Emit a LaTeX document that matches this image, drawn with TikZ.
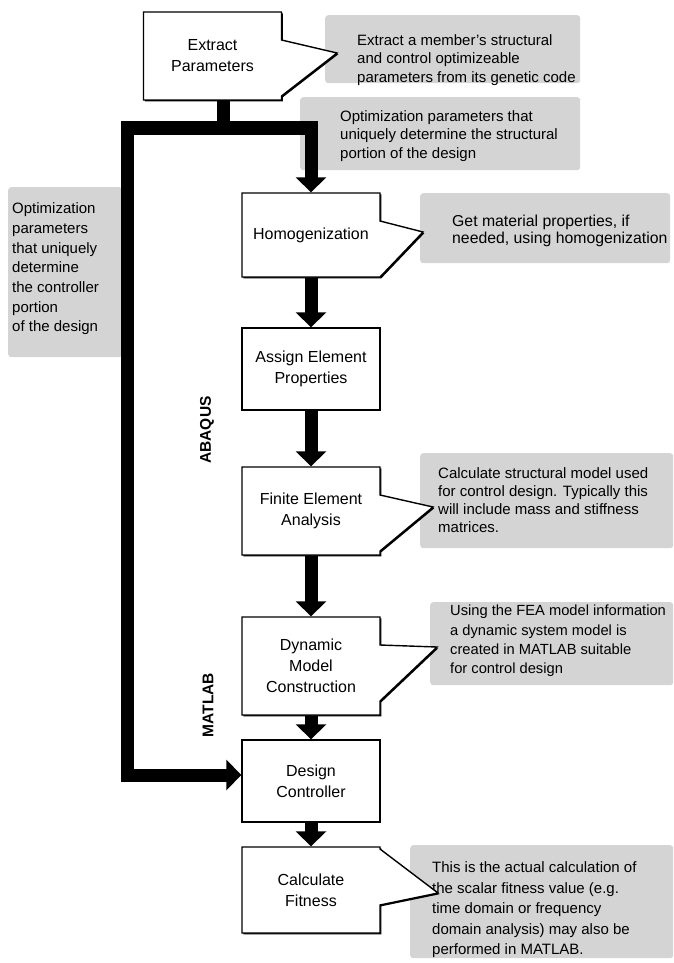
\documentclass[tikz,border=0pt]{standalone}
\usepackage{fontspec}
\setmainfont{Liberation Sans}
\usetikzlibrary{arrows.meta,shapes.callouts,shadows,positioning}

\begin{document}
\begin{tikzpicture}
    \tikzset{x=1pt, y=-1pt, >={Triangle[width=30pt,length=15pt]}}
    \tikzstyle{stage}=[rectangle, draw, line width=1.4pt, fill=white, minimum width=138pt,
        align=center, font=\fontsize{16}{21}\selectfont,
        drop shadow={shadow xshift=1.3pt, shadow yshift=-1.3pt, fill=black, opacity=1}]
    \tikzstyle{talk}=[stage, rectangle callout, callout pointer width=56pt]
    \tikzstyle{panel}=[rectangle, fill=black!17, rounded corners=3pt, inner sep=0pt, anchor=north west]
    \tikzstyle{note}=[align=left, anchor=west, inner sep=0pt, font=\fontsize{15}{18.5}\selectfont]
    \tikzstyle{flow}=[line width=13pt]
    \tikzstyle{tool}=[rotate=90, font=\bfseries\fontsize{15.5}{18}\selectfont]

    \useasboundingbox (0,0) rectangle (673,963);

    % grey notes
    \draw (325,15)  node[panel, minimum width=255pt, minimum height=68pt]  (p1) {};
    \draw (300,97)  node[panel, minimum width=280pt, minimum height=73pt]  (p2) {};
    \draw (8,187)   node[panel, minimum width=114pt, minimum height=170pt] (p3) {};
    \draw (420,193) node[panel, minimum width=250pt, minimum height=70pt]  (p4) {};
    \draw (420,453) node[panel, minimum width=253pt, minimum height=95pt]  (p5) {};
    \draw (430,602) node[panel, minimum width=243pt, minimum height=83pt]  (p6) {};
    \draw (410,845) node[panel, minimum width=263pt, minimum height=113pt] (p7) {};

    \draw (357,60)  node[note] (t1) {Extract a member's structural\\and control optimizeable\\parameters from its genetic code};
    \draw (340,136) node[note] (t2) {Optimization parameters that\\uniquely determine the structural\\portion of the design};
    \draw (12,269)  node[note, font=\fontsize{15}{19.7}\selectfont] (t3) {Optimization\\parameters\\that uniquely\\determine\\the controller\\portion\\of the design};
    \draw (452,231) node[note, font=\fontsize{15.8}{17.5}\selectfont] (t4) {Get material properties, if\\needed, using homogenization};
    \draw (438,500) node[note, font=\fontsize{15}{18}\selectfont] (t5) {Calculate structural model used\\for control design. Typically this\\will include mass and stiffness\\matrices.};
    \draw (450,641) node[note, font=\fontsize{14.7}{19.3}\selectfont] (t6) {Using the FEA model information\\a dynamic system model is\\created in MATLAB suitable\\for control design};
    \draw (432,910) node[note, font=\fontsize{15}{20.5}\selectfont] (t7) {This is the actual calculation of\\the scalar fitness value (e.g.\\time domain or frequency\\domain analysis) may also be\\performed in MATLAB.};

    % steps
    \draw (212.5,56) node[talk, minimum height=88pt, callout absolute pointer={(337,53)}]  (extract) {Extract\\Parameters};
    \draw (311,235)  node[talk, minimum height=84pt, callout absolute pointer={(423,232)}] (homog)   {Homogenization};
    \draw (311,369)  node[stage, minimum height=82pt]                                     (assign)  {Assign Element\\Properties};
    \draw (311,511)  node[talk, minimum height=88pt, callout absolute pointer={(433,507)}] (fea)     {Finite Element\\Analysis};
    \draw (311,666)  node[talk, minimum height=98pt, callout absolute pointer={(437,647)}] (dynamic) {Dynamic\\Model\\Construction};
    \draw (311,781)  node[stage, minimum height=82pt]                                     (design)  {Design\\Controller};
    \draw (311,890)  node[talk, minimum height=86pt, callout absolute pointer={(438,893)}] (fitness) {Calculate\\Fitness};

    \draw (207,430) node[tool] (abaqus) {ABAQUS};
    \draw (208,705) node[tool] (matlab) {MATLAB};

    % parameter split
    \coordinate (split)  at (223.5,128);
    \coordinate (corner) at (127,128);
    \draw [flow]     (extract.south -| split) -- (split);
    \draw [flow, <->] (homog.north) |- (corner) |- ([yshift=6pt]design.west);

    \draw [flow, ->] (homog.south)   -- (assign.north);
    \draw [flow, ->] (assign.south)  -- (fea.north);
    \draw [flow, ->] (fea.south)     -- (dynamic.north);
    \draw [flow, ->] (dynamic.south) -- (design.north);
    \draw [flow, ->] (design.south)  -- (fitness.north);
\end{tikzpicture}
\end{document}
